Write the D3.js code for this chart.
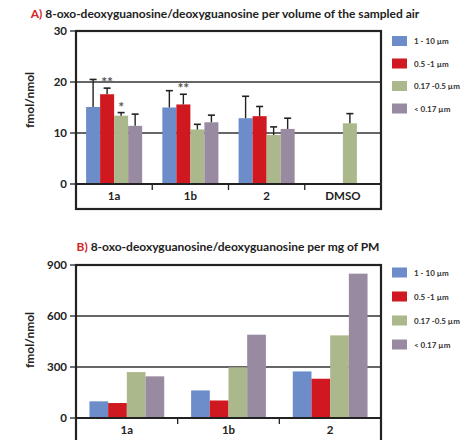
<!DOCTYPE html>
<html>
<head>
<meta charset="utf-8">
<script src="https://cdn.jsdelivr.net/npm/d3@7"></script>
<style>
  body { margin: 0; background: #fff; }
  svg text { font-family: Lato, "Open Sans", sans-serif; fill: #222; }
</style>
</head>
<body>
<svg id="chart" width="461" height="440"></svg>
<script>
// size fractions (legend)
var sizeLabels = ['1 - 10 µm', '0.5 -1  µm', '0.17 -0.5 µm', '< 0.17 µm'];
var sizeColors = ['#6c8dc9', '#cf1820', '#aab88b', '#988aa0'];

// panel A: per volume of sampled air
var catsA = ['1a', '1b', '2', 'DMSO'];
var ticksA = [0, 10, 20, 30];
var meanA = [
	[15.1, 15.0, 12.9, null],
	[17.6, 15.6, 13.3, null],
	[13.4, 10.7, 9.6, 11.9],
	[11.4, 12.1, 10.8, null]
];
// top of the error whisker
var errTopA = [
	[20.5, 18.3, 17.2, null],
	[18.8, 17.6, 15.2, null],
	[14.0, 11.7, 11.2, 13.8],
	[13.7, 13.5, 12.9, null]
];
var starsA = [
	{cat: '1a', size: 1, text: '**'},
	{cat: '1a', size: 2, text: '*'},
	{cat: '1b', size: 1, text: '**'}
];

// panel B: per mg of PM
var catsB = ['1a', '1b', '2'];
var ticksB = [0, 300, 600, 900];
var meanB = [
	[98, 162, 274],
	[88, 103, 231],
	[270, 298, 486],
	[245, 490, 849]
];

var svg = d3.select('#chart');

function drawPanel(opt){
	var g = svg.append('g');
	var x0 = d3.scaleBand().domain(opt.cats).range([76, 381]).paddingInner(0);
	var x1 = d3.scaleBand().domain(d3.range(4)).range([0, x0.bandwidth()]).paddingOuter(0.72);
	var y = d3.scaleLinear().domain(opt.domain).range(opt.yRange);

	// title
	var t = g.append('text')
		.attr('x', opt.titleX).attr('y', opt.titleY)
		.attr('text-anchor', 'middle')
		.style('font-size', '12px').style('font-weight', 'bold');
	t.append('tspan').style('fill', '#d3262c').text(opt.letter + ') ');
	t.append('tspan').text(opt.title);

	// grid lines (not at 0 or top)
	g.selectAll('.grid').data(opt.ticks.slice(1, -1)).enter().append('line')
		.attr('x1', 76).attr('x2', 381)
		.attr('y1', function(d){ return y(d); }).attr('y2', function(d){ return y(d); })
		.attr('stroke', '#333').attr('stroke-width', 1.3);

	// bars
	opt.values.forEach(function(series, si){
		series.forEach(function(v, ci){
			if(v === null) return;
			var bx = x0(opt.cats[ci]) + x1(si);
			g.append('rect')
				.attr('x', bx).attr('y', y(v))
				.attr('width', x1.bandwidth()).attr('height', y(0) - y(v))
				.attr('fill', sizeColors[si]);
			if(opt.errTop){
				var e = opt.errTop[si][ci];
				var cx = bx + x1.bandwidth() / 2;
				g.append('line').attr('x1', cx).attr('x2', cx)
					.attr('y1', y(v)).attr('y2', y(e))
					.attr('stroke', '#222').attr('stroke-width', 1.4);
				g.append('line').attr('x1', cx - 3.5).attr('x2', cx + 3.5)
					.attr('y1', y(e)).attr('y2', y(e))
					.attr('stroke', '#222').attr('stroke-width', 1.6);
			}
		});
	});

	// significance stars
	if(opt.stars){
		opt.stars.forEach(function(s){
			var ci = opt.cats.indexOf(s.cat);
			var cx = x0(s.cat) + x1(s.size) + x1.bandwidth() / 2;
			g.append('text')
				.attr('x', cx).attr('y', y(opt.errTop[s.size][ci]) - 1)
				.attr('text-anchor', 'middle')
				.style('font-size', '14px').style('font-weight', 'bold').style('fill', '#555')
				.text(s.text);
		});
	}

	// x axis at zero with separators between groups
	g.append('line').attr('x1', 76).attr('x2', 381)
		.attr('y1', y(0)).attr('y2', y(0))
		.attr('stroke', '#222').attr('stroke-width', 2);
	g.selectAll('.sep').data(opt.cats.slice(1)).enter().append('line')
		.attr('x1', function(d){ return x0(d); }).attr('x2', function(d){ return x0(d); })
		.attr('y1', y(0)).attr('y2', y(0) + 6)
		.attr('stroke', '#222').attr('stroke-width', 1.3);
	g.selectAll('.cat').data(opt.cats).enter().append('text')
		.attr('x', function(d){ return x0(d) + x0.bandwidth() / 2; })
		.attr('y', y(0) + 16)
		.attr('text-anchor', 'middle')
		.style('font-size', '11.5px').style('font-weight', 'bold')
		.text(function(d){ return d; });

	// y axis ticks
	g.selectAll('.yt').data(opt.ticks).enter().append('line')
		.attr('x1', 70).attr('x2', 76)
		.attr('y1', function(d){ return y(d); }).attr('y2', function(d){ return y(d); })
		.attr('stroke', '#222').attr('stroke-width', 1.3);
	g.selectAll('.yl').data(opt.ticks).enter().append('text')
		.attr('x', 67).attr('y', function(d){ return y(d) + 4; })
		.attr('text-anchor', 'end')
		.style('font-size', '11.5px').style('font-weight', 'bold')
		.text(function(d){ return d; });

	// frame
	g.append('rect')
		.attr('x', 76).attr('y', opt.yRange[1])
		.attr('width', 305).attr('height', opt.frameBottom - opt.yRange[1])
		.attr('fill', 'none').attr('stroke', '#222').attr('stroke-width', 2.2);

	// y label
	g.append('text')
		.attr('transform', 'translate(34,' + opt.labelY + ') rotate(-90)')
		.attr('text-anchor', 'middle')
		.style('font-size', '12px').style('font-weight', 'bold')
		.text('fmol/nmol');

	// legend
	sizeLabels.forEach(function(lbl, i){
		var ly = opt.legendY + i * opt.legendStep;
		g.append('rect').attr('x', 392).attr('y', ly - 5)
			.attr('width', 15).attr('height', 10).attr('fill', sizeColors[i]);
		g.append('text').attr('x', 414).attr('y', ly + 3)
			.style('font-size', '8px').style('font-weight', 'bold').style('fill', '#333')
			.text(lbl);
	});
}

drawPanel({
	letter: 'A', title: '8-oxo-deoxyguanosine/deoxyguanosine per volume of the sampled air',
	titleX: 225, titleY: 18,
	cats: catsA, values: meanA, errTop: errTopA, stars: starsA,
	domain: [0, 30], ticks: ticksA, yRange: [184, 31], frameBottom: 209,
	labelY: 100, legendY: 41, legendStep: 22.5
});

drawPanel({
	letter: 'B', title: '8-oxo-deoxyguanosine/deoxyguanosine per mg of PM',
	titleX: 228, titleY: 251,
	cats: catsB, values: meanB, errTop: null, stars: null,
	domain: [0, 900], ticks: ticksB, yRange: [418, 265], frameBottom: 447,
	labelY: 340, legendY: 272.5, legendStep: 24
});
</script>
</body>
</html>
